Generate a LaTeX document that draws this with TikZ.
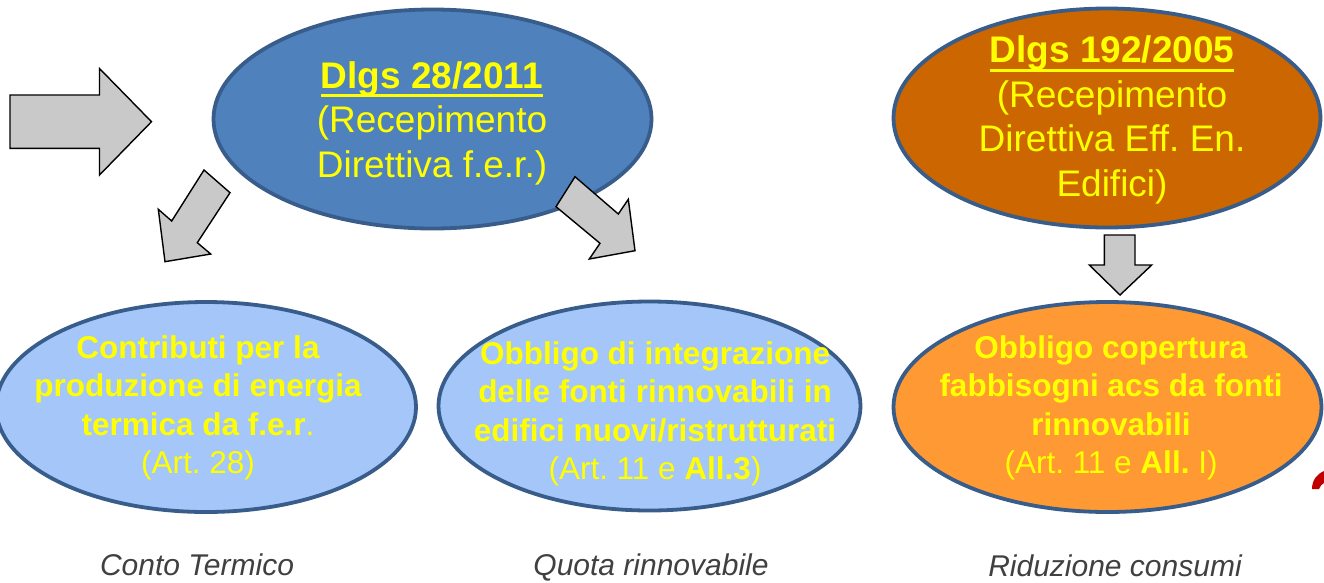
\documentclass[tikz,border=0pt]{standalone}
\usepackage{fontspec}
\setmainfont{Liberation Sans}
\usetikzlibrary{shapes.geometric}
\definecolor{ellline}{HTML}{385D8A}
\definecolor{darkblue}{HTML}{4F81BD}
\definecolor{lightblue}{HTML}{A4C6F9}
\definecolor{darkorange}{HTML}{CC6600}
\definecolor{lightorange}{HTML}{FF9933}
\definecolor{arrowgray}{HTML}{C9C9C9}
\definecolor{labelgray}{HTML}{404040}
\definecolor{txtyellow}{HTML}{FFFF00}
\definecolor{accentred}{HTML}{C00000}
\newcommand\myunderline[1]{\setbox0\hbox{#1}\rlap{\rule[-9pt]{\wd0}{3pt}}\box0}
\tikzset{
  ell/.style={ellipse, draw=ellline, line width=3.8pt, inner sep=0pt},
  blockarrow/.style={fill=arrowgray, draw=black, line width=1.4pt, line join=miter},
  toptxt/.style={align=center, text=txtyellow, inner sep=0pt, font=\fontsize{37}{44.5}\selectfont},
  bottxt/.style={align=center, text=txtyellow, inner sep=0pt, font=\fontsize{31.5}{38.5}\selectfont},
  lbl/.style={anchor=base, inner sep=0pt, text=labelgray, font=\fontsize{30}{36}\selectfont\itshape}
}
\begin{document}
\frenchspacing
\begin{tikzpicture}[x=1pt,y=-1pt]
\useasboundingbox (0,0) rectangle (1324,582);
\fill[white] (0,0) rectangle (1324,582);

% ellipses
\node[ell, fill=darkblue, minimum width=438pt, minimum height=219pt] (dlgs28) at (432.5,119) {};
\node[ell, fill=darkorange, minimum width=427pt, minimum height=219pt] (dlgs192) at (1107,118) {};
\node[ell, fill=lightblue, minimum width=420pt, minimum height=210pt] (contributi) at (206,407) {};
\node[ell, fill=lightblue, minimum width=422pt, minimum height=209pt] (quota) at (649.5,406) {};
\node[ell, fill=lightorange, minimum width=428pt, minimum height=210pt] (acs) at (1107.5,407) {};

% texts
\node[toptxt] (t28) at (432,123) {\textbf{\myunderline{Dlgs 28/2011}}\\(Recepimento\\Direttiva f.e.r.)};
\node[toptxt] (t192) at (1112,120) {\textbf{\myunderline{Dlgs 192/2005}}\\(Recepimento\\Direttiva Eff. En.\\Edifici)};
\node[bottxt] (tcontr) at (198,408) {\textbf{Contributi per la}\\\textbf{produzione di energia}\\\textbf{termica da f.e.r}.\\(Art. 28)};
\node[bottxt] (tquota) at (655,414) {\textbf{Obbligo di integrazione}\\\textbf{delle fonti rinnovabili in}\\\textbf{edifici nuovi/ristrutturati}\\(Art. 11 e \textbf{All.3})};
\node[bottxt] (tacs) at (1111,408) {\textbf{Obbligo copertura}\\\textbf{fabbisogni acs da fonti}\\\textbf{rinnovabili}\\(Art. 11 e \textbf{All.} I)};

% labels
\node[lbl] (lconto) at (197,575) {Conto Termico};
\node[lbl] (lquota) at (651,575) {Quota rinnovabile};
\node[lbl] (lrid) at (1115,576) {Riduzione consumi};

% block arrows
\draw[blockarrow] (10,95) -- (99.5,95) -- (99.5,68.5) -- (151.5,121.7) -- (99.5,175) -- (99.5,148.3) -- (10,148.3) -- cycle;
\draw[blockarrow] (204,170) -- (230,192.7) -- (197.3,242.7) -- (210.7,254) -- (165,261.7) -- (158.3,209.3) -- (171.7,221) -- cycle;
\draw[blockarrow] (575,176.7) -- (556,206.7) -- (600,243.3) -- (589.3,259) -- (635,250.7) -- (628.3,199.3) -- (618.3,214) -- cycle;
\draw[blockarrow] (1104.3,235) -- (1135,235) -- (1135,265) -- (1151.7,265) -- (1120,295) -- (1089.3,265) -- (1104.3,265) -- cycle;

% red fragment at right edge
\fill[accentred] (1312,489) .. controls (1312,480) and (1317,474) .. (1324,471) -- (1324,483) .. controls (1322,484) and (1320,486) .. (1319,489) -- cycle;
\end{tikzpicture}
\end{document}
